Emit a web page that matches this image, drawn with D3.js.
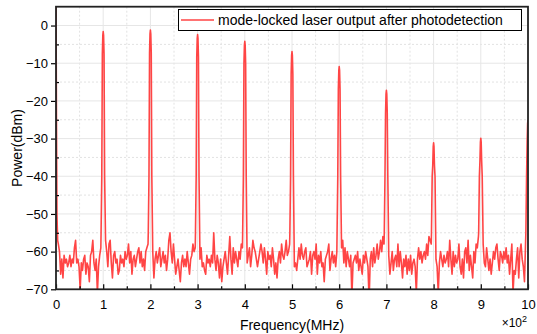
<!DOCTYPE html>
<html><head><meta charset="utf-8">
<script src="https://cdn.jsdelivr.net/npm/d3@7"></script>
<style>body{margin:0;background:#fff}svg{display:block;font-family:"Liberation Sans",Arial,sans-serif}</style>
</head><body><svg id="c" width="537" height="334"></svg>
<script>
// ---------- data ----------
const harmonics = [1,2,3,4,5,6,7,8,9];
const peakPower = [-1.6,-1.2,-2.4,-4.2,-6.9,-10.9,-17.2,-31.1,-29.9];
const edgePeak = {x:10, y:-25};
const startDrop = [[0,8],[0.01,-25],[0.02,-50],[0.035,-57]];
// peak profile: [offset from harmonic (units of 100 MHz), level (absolute dB, or relative to peak when rel)]
const peakShape = [[-0.045,-55,false],[-0.03,-40,false],[-0.018,-6,true],[-0.008,-1,true],[0,0,true],[0.008,-1,true],[0.018,-6,true],[0.03,-40,false]];
// noise floor, 38 samples per harmonic interval, spread from k+0.05 to k+0.95
const noise0 = [-58,-60,-66,-62,-67,-61,-63,-62,-64,-63,-61,-64,-62,-63,-59,-57,-63,-62,-64,-70,-63,-65,-62,-61,-66,-63,-64,-68,-61,-60,-57,-63,-65,-62,-71,-64,-61,-59];
const noise1 = [-57,-60,-64,-58,-57,-63,-67,-61,-60,-63,-62,-66,-65,-61,-63,-62,-64,-60,-62,-61,-58,-63,-60,-66,-62,-61,-64,-62,-60,-59,-63,-60,-64,-62,-65,-60,-59,-58];
const noise2 = [-60,-67,-62,-60,-63,-61,-59,-64,-62,-60,-63,-61,-65,-62,-57,-55,-60,-63,-58,-62,-66,-64,-62,-65,-68,-63,-61,-64,-62,-64,-60,-63,-66,-62,-61,-58,-60,-59];
const noise3 = [-62,-59,-64,-63,-65,-66,-61,-63,-62,-64,-61,-63,-55,-62,-65,-61,-63,-67,-62,-68,-64,-62,-60,-63,-66,-61,-56,-62,-66,-59,-63,-60,-62,-64,-60,-62,-58,-59];
const noise4 = [-63,-61,-59,-64,-61,-57,-59,-60,-62,-64,-62,-60,-58,-60,-63,-59,-62,-66,-60,-62,-61,-64,-59,-62,-66,-63,-67,-62,-60,-63,-58,-61,-62,-60,-57,-61,-60,-58];
const noise5 = [-64,-63,-65,-62,-59,-62,-58,-61,-62,-60,-59,-64,-63,-62,-60,-66,-61,-60,-62,-58,-66,-61,-63,-60,-64,-63,-68,-62,-61,-60,-58,-65,-62,-60,-63,-61,-64,-60];
const noise6 = [-59,-57,-63,-59,-64,-60,-62,-64,-61,-72,-63,-62,-61,-63,-60,-65,-62,-64,-66,-61,-63,-60,-62,-64,-73,-62,-60,-64,-59,-63,-61,-58,-62,-60,-57,-60,-56,-58];
const noise7 = [-61,-66,-63,-60,-65,-62,-61,-64,-58,-64,-60,-63,-67,-62,-64,-61,-66,-62,-65,-61,-66,-63,-62,-64,-71,-62,-59,-62,-60,-63,-61,-60,-62,-58,-61,-56,-57,-58];
const noise8 = [-62,-64,-71,-63,-60,-62,-64,-61,-63,-62,-60,-64,-57,-62,-66,-60,-64,-61,-63,-62,-58,-64,-66,-62,-67,-60,-59,-63,-57,-65,-61,-64,-67,-60,-63,-58,-59,-56];
const noise9 = [-58,-63,-64,-59,-62,-65,-62,-66,-63,-60,-62,-59,-58,-62,-65,-60,-61,-63,-60,-62,-59,-63,-61,-66,-62,-58,-71,-65,-66,-62,-59,-67,-60,-58,-62,-64,-68,-57];
const noiseSets = [noise0,noise1,noise2,noise3,noise4,noise5,noise6,noise7,noise8,noise9];
const xTicks = [0,1,2,3,4,5,6,7,8,9,10];
const xMinor = [0.5,1.5,2.5,3.5,4.5,5.5,6.5,7.5,8.5,9.5];
const yTicks = [0,-10,-20,-30,-40,-50,-60,-70];
const yMinor = [-5,-15,-25,-35,-45,-55,-65];
const legendLabel = "mode-locked laser output after photodetection";

// ---------- build series ----------
const pts = [];
noiseSets.forEach((ns, k) => {
  if (k === 0) startDrop.forEach(p => pts.push(p));
  else {
    const P = peakPower[k-1], h = harmonics[k-1];
    peakShape.forEach(([dx,v,rel]) => pts.push([h+dx, rel ? P+v : v]));
  }
  const n = ns.length;
  ns.forEach((v,i) => pts.push([k+0.05+i*0.9/(n-1), v]));
});
peakShape.filter(s=>s[0]<=0).forEach(([dx,v,rel]) => pts.push([edgePeak.x+dx, rel ? edgePeak.y+v : v]));

// ---------- layout ----------
const L=56, R=528, T=6.7, B=289.3;
const svg = d3.select("#c");
const x = d3.scaleLinear().domain([0,10]).range([L,R]);
const y = d3.scaleLinear().domain([-70,5]).range([B,T]);

// grid
const g = svg.append("g");
g.selectAll(".mgx").data(xMinor).join("line").attr("x1",d=>x(d)).attr("x2",d=>x(d)).attr("y1",T).attr("y2",B)
  .attr("stroke","#e2e2e2").attr("stroke-dasharray","2,2").attr("stroke-width",1);
g.selectAll(".mgy").data(yMinor).join("line").attr("x1",L).attr("x2",R).attr("y1",d=>y(d)).attr("y2",d=>y(d))
  .attr("stroke","#e2e2e2").attr("stroke-dasharray","2,2").attr("stroke-width",1);
g.selectAll(".gx").data(xTicks.slice(1,-1)).join("line").attr("x1",d=>x(d)).attr("x2",d=>x(d)).attr("y1",T).attr("y2",B)
  .attr("stroke","#e6e6e6").attr("stroke-width",1);
g.selectAll(".gy").data(yTicks.slice(0,-1)).join("line").attr("x1",L).attr("x2",R).attr("y1",d=>y(d)).attr("y2",d=>y(d))
  .attr("stroke","#e6e6e6").attr("stroke-width",1);

// data line
svg.append("clipPath").attr("id","clip").append("rect").attr("x",L).attr("y",T).attr("width",R-L).attr("height",B-T);
svg.append("path").datum(pts).attr("clip-path","url(#clip)")
  .attr("d", d3.line().x(d=>x(d[0])).y(d=>y(d[1])))
  .attr("fill","none").attr("stroke","#ff4545").attr("stroke-width",1.6).attr("stroke-linejoin","round");

// axes
const ax = svg.append("g").attr("transform",`translate(0,${B})`)
  .call(d3.axisBottom(x).tickValues(xTicks).tickSize(-5).tickPadding(10).tickFormat(d3.format("d")));
const axm = svg.append("g").attr("transform",`translate(0,${B})`)
  .call(d3.axisBottom(x).tickValues(xMinor).tickSize(-3).tickFormat(""));
const ay = svg.append("g").attr("transform",`translate(${L},0)`)
  .call(d3.axisLeft(y).tickValues(yTicks).tickSize(5).tickPadding(3).tickFormat(d3.format("d")));
const aym = svg.append("g").attr("transform",`translate(${L},0)`)
  .call(d3.axisLeft(y).tickValues(yMinor).tickSize(-3).tickFormat(""));
[ax,axm,ay,aym].forEach(a=>{a.select(".domain").remove(); a.selectAll("line").attr("stroke","#000").attr("stroke-width",1.2);});
[ax,ay].forEach(a=>a.selectAll("text").attr("font-size",13).attr("fill","#000").attr("font-family","Liberation Sans, Arial, sans-serif"));
ax.selectAll("text").attr("dy","0.71em");

// frame
svg.append("rect").attr("x",L).attr("y",T).attr("width",R-L).attr("height",B-T).attr("fill","none").attr("stroke","#222").attr("stroke-width",1.8);

// legend
const lg = svg.append("g");
lg.append("rect").attr("x",178.5).attr("y",9.5).attr("width",343).attr("height",21).attr("fill","#fff").attr("stroke","#000").attr("stroke-width",1);
lg.append("line").attr("x1",181).attr("x2",214).attr("y1",20).attr("y2",20).attr("stroke","#ff4545").attr("stroke-width",1.6);
lg.append("text").attr("x",218).attr("y",25).attr("font-size",14).attr("fill","#000").text(legendLabel);

// axis titles
svg.append("text").attr("transform",`translate(22,${(T+B)/2}) rotate(-90)`).attr("text-anchor","middle").attr("font-size",14).text("Power(dBm)");
svg.append("text").attr("x",(L+R)/2).attr("y",330).attr("text-anchor","middle").attr("font-size",14).text("Frequency(MHz)");
const mult = svg.append("text").attr("x",527).attr("y",327).attr("text-anchor","end").attr("font-size",12);
mult.append("tspan").text("×10");
mult.append("tspan").attr("dy",-5).attr("font-size",9).text("2");
</script></body></html>
